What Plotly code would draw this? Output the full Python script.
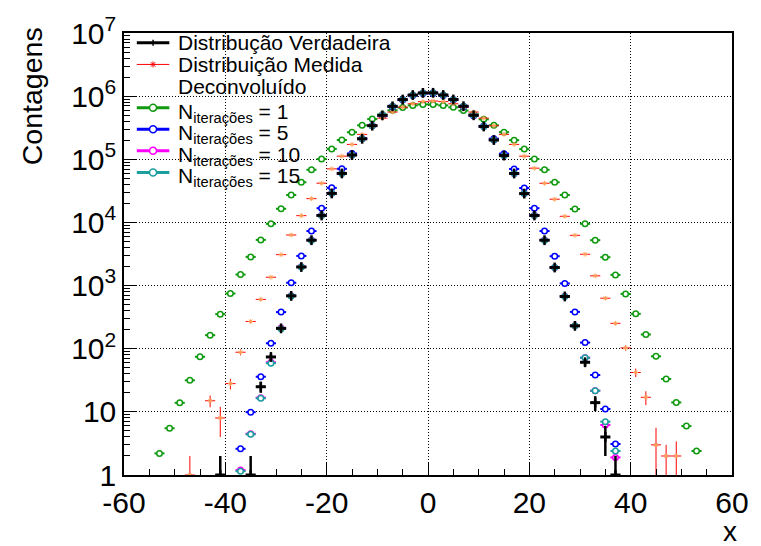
import numpy as np
import plotly.graph_objects as go

# Bin centres: 60 bins of width 2 covering [-60, 60]
bin_centers = list(range(-59, 60, 2))
half_width = 1.0

# Counts per bin (None = empty bin)
verdadeira = [None] * 9 + [1, None, None, 1,
    25, 74, 210, 687, 1968, 5230, 12900, 28800, 59700, 116700, 211000, 341000,
    497000, 690000, 883000, 1041000, 1126000,
    1129000, 1043000, 885000, 692000, 498000, 331000, 202000, 114500, 59600,
    28600, 12900, 5230, 1935, 672, 230, 61, 14, 4, 1] + [None] * 11

medida = [None] * 6 + [1, None,
    15, 8, 28, 88, 270, 604, 1356, 3090, 6320, 12800, 23800, 41800, 70500,
    112000, 172000, 248000, 340000, 448000, 560000, 668000, 757000, 818000,
    838000, 818000, 757000, 668000, 560000, 448000, 340000, 248000, 172000,
    112000, 72300, 41700, 23300, 12500, 6250, 3130, 1426, 631, 252, 103, 42,
    17, 3, 2, 2] + [None] * 5

err_medida = [None] * 6 + [1.0, None,
    3.2, 4.0, 5.3, 9.4, 16, 25, 37, 56, 80, 113, 154, 204, 266,
    335, 415, 498, 583, 669, 748, 817, 870, 904,
    915, 904, 870, 817, 748, 669, 583, 498, 415,
    335, 269, 204, 153, 112, 79, 56, 38, 25, 16, 10, 6.4,
    4.2, 2.6, 1.0, 1.4] + [None] * 5

iter_1 = [None] * 3 + [
    2.2, 5.5, 13.9, 31.6, 74.5, 164, 353, 748, 1494, 2847, 5290, 9510, 16450,
    27170, 43250, 68200, 101000, 146000, 202000, 268000, 345000, 433000,
    512000, 597000, 658000, 714000, 740000,
    740000, 714000, 665000, 590000, 515000, 430000, 346000, 269000, 201000,
    145000, 101000, 68200, 43250, 27170, 16300, 9510, 5230, 2813, 1477, 738,
    357, 168, 75.7, 33.2, 14.1, 5.95, 2.4] + [None] * 3

iter_5 = [None] * 11 + [
    2.6, 9.9, 36, 122, 380, 1109, 2950, 7300, 16800, 35300, 70600, 123600,
    214000, 340000, 490000, 676000, 866000, 1020000, 1104000,
    1106000, 1021000, 867000, 677000, 491000, 338000, 212000, 122800, 70200,
    35100, 16800, 7300, 2917, 1081, 383, 125, 38.3, 11.1, 3.1] + [None] * 11

iter_10 = [None] * 11 + [
    1.2, 4.5, 16.8, 61, 212, 690, 1985, 5250, 12950, 28900, 59900, 117000,
    211500, 341500, 497500, 690500, 883500, 1041500, 1126000,
    1128000, 1042500, 884500, 691500, 497500, 331500, 202500, 114800, 59800,
    28700, 12950, 5250, 1925, 675, 232, 72, 21.6, 6.2, 1.9] + [None] * 11

iter_15 = [None] * 11 + [
    1.15, 4.4, 16.4, 59, 208, 686, 1975, 5240, 12920, 28850, 59800, 116900,
    211200, 341200, 497200, 690200, 883200, 1041200, 1126500,
    1128500, 1042800, 884800, 691800, 497800, 331200, 202200, 114600, 59700,
    28650, 12920, 5240, 1930, 673, 231, 72, 21.6, 7.0, 2.4] + [None] * 11

x_ticks = [-60, -40, -20, 0, 20, 40, 60]
x_ticktext = ["-60", "-40", "-20", "0", "20", "40", "60"]
y_ticks = [1, 10, 1e2, 1e3, 1e4, 1e5, 1e6, 1e7]
y_ticktext = ["1", "10", "10<sup>2</sup>", "10<sup>3</sup>", "10<sup>4</sup>",
              "10<sup>5</sup>", "10<sup>6</sup>", "10<sup>7</sup>"]

legend_labels = ["Distribução Verdadeira", "Distribuição Medida", "Deconvoluído",
                 "N<sub>iterações</sub> = 1", "N<sub>iterações</sub> = 5",
                 "N<sub>iterações</sub> = 10", "N<sub>iterações</sub> = 15"]

FONT = "Liberation Sans, Arial, Helvetica, sans-serif"
C_TRUE = "#000000"
C_MEAS = "#ff0000"
C_IT1 = "#109a10"
C_IT5 = "#0000ff"
C_IT10 = "#ff00ff"
C_IT15 = "#1a9e9e"

W, H = 761, 546
ML, MR, MT, MB = 124, 20, 25, 71
PW, PH = W - ML - MR, H - MT - MB


def px_x(px):
    return (px - ML) / PW


def px_y(py):
    return (H - MB - py) / PH


def points(values, errors=None):
    xs, ys, up, dn = [], [], [], []
    for i, v in enumerate(values):
        if v is None:
            continue
        xs.append(bin_centers[i])
        ys.append(v)
        if errors is not None:
            e = errors[i]
            up.append(e)
            dn.append(min(e, v - 0.3))
    return xs, ys, up, dn


fig = go.Figure()

# unfolded distributions: open circles with bin-width bars
for vals, col in [(iter_1, C_IT1), (iter_5, C_IT5), (iter_10, C_IT10), (iter_15, C_IT15)]:
    xs, ys, _, _ = points(vals)
    fig.add_trace(go.Scatter(
        x=xs, y=ys, mode="markers", showlegend=False,
        marker=dict(symbol="circle", size=5.5, color="white",
                    line=dict(color=col, width=1.5)),
        error_x=dict(type="constant", value=half_width, width=0,
                     thickness=2, color=col)))

# measured distribution
xs, ys, up, dn = points(medida, err_medida)
fig.add_trace(go.Scatter(
    x=xs, y=ys, mode="markers", showlegend=False,
    marker=dict(symbol="asterisk-open", size=4, line=dict(color=C_MEAS, width=1)),
    error_x=dict(type="constant", value=half_width, width=0, thickness=1, color=C_MEAS),
    error_y=dict(type="data", symmetric=False, array=up, arrayminus=dn,
                 width=0, thickness=1, color=C_MEAS)))

# true distribution with Poisson errors
err_true = [None if v is None else float(np.sqrt(v)) for v in verdadeira]
xs, ys, up, dn = points(verdadeira, err_true)
fig.add_trace(go.Scatter(
    x=xs, y=ys, mode="markers", showlegend=False,
    marker=dict(symbol="line-ns", size=7, line=dict(color=C_TRUE, width=2.5)),
    error_x=dict(type="constant", value=half_width, width=0, thickness=3, color=C_TRUE),
    error_y=dict(type="data", symmetric=False, array=up, arrayminus=dn,
                 width=0, thickness=2.5, color=C_TRUE)))

# ---- legend box drawn with shapes and annotations ----
row_y = [35, 57, 79, 101, 123, 145, 167]
line_x0, line_x1, text_x = 137, 170, 177
sample_style = [
    (C_TRUE, 3, "plus"), (C_MEAS, 1, "star"), (None, 0, None),
    (C_IT1, 3, "circle"), (C_IT5, 3, "circle"), (C_IT10, 3, "circle"), (C_IT15, 3, "circle"),
]
shapes = []
annotations = []
xc = px_x((line_x0 + line_x1) / 2)
for label, ry, (col, lw, mk) in zip(legend_labels, row_y, sample_style):
    sub = "<sub>" in label
    annotations.append(dict(
        text=label, xref="paper", yref="paper", x=px_x(text_x), y=px_y(ry),
        xanchor="left", yanchor="middle", showarrow=False,
        yshift=-5 if sub else 0,
        font=dict(size=21, family=FONT, color="black")))
    if col is None:
        continue
    yc = px_y(ry)
    shapes.append(dict(type="line", xref="paper", yref="paper",
                       x0=px_x(line_x0), x1=px_x(line_x1), y0=yc, y1=yc,
                       line=dict(color=col, width=lw), layer="above"))
    if mk == "circle":
        shapes.append(dict(type="circle", xref="paper", yref="paper",
                           xsizemode="pixel", ysizemode="pixel",
                           xanchor=xc, yanchor=yc, x0=-3.5, x1=3.5, y0=-3.5, y1=3.5,
                           fillcolor="white", line=dict(color=col, width=1.5),
                           layer="above"))
    elif mk == "plus":
        shapes.append(dict(type="line", xref="paper", yref="paper",
                           xsizemode="pixel", ysizemode="pixel",
                           xanchor=xc, yanchor=yc, x0=0, x1=0, y0=-3, y1=3,
                           line=dict(color=col, width=1.5), layer="above"))
    elif mk == "star":
        for dx, dy in [(0, 3), (3, 0), (2.2, 2.2), (2.2, -2.2)]:
            shapes.append(dict(type="line", xref="paper", yref="paper",
                               xsizemode="pixel", ysizemode="pixel",
                               xanchor=xc, yanchor=yc, x0=-dx, x1=dx, y0=-dy, y1=dy,
                               line=dict(color=col, width=1), layer="above"))

annotations += [
    dict(text="Contagens", xref="paper", yref="paper", x=px_x(31), y=px_y(89),
         textangle=-90, showarrow=False, font=dict(size=28.5, family=FONT),
         xanchor="center", yanchor="middle"),
    dict(text="x", xref="paper", yref="paper", x=px_x(739), y=px_y(533),
         showarrow=False, font=dict(size=28, family=FONT),
         xanchor="center", yanchor="middle"),
]

minor_y = [k * 10 ** d for d in range(7) for k in range(2, 10)]
GRID_DASH = "1px,2px"

fig.update_layout(
    width=W, height=H,
    margin=dict(l=ML, r=MR, t=MT, b=MB),
    paper_bgcolor="white", plot_bgcolor="white",
    font=dict(family=FONT, color="black"),
    showlegend=False,
    shapes=shapes,
    annotations=annotations,
    xaxis=dict(range=[-60, 60], tickvals=x_ticks, ticktext=x_ticktext,
               ticks="inside", ticklen=12, tickwidth=1, tickcolor="black",
               showline=True, linecolor="black", linewidth=1.5, mirror=True,
               showgrid=True, gridcolor="black", griddash=GRID_DASH, gridwidth=1,
               zeroline=False, tickfont=dict(size=30, family=FONT),
               minor=dict(dtick=5, tick0=0, ticks="inside", ticklen=6,
                          tickcolor="black", showgrid=False)),
    yaxis=dict(type="log", range=[0, 7], tickvals=y_ticks, ticktext=y_ticktext,
               ticks="inside", ticklen=12, tickwidth=1, tickcolor="black",
               showline=True, linecolor="black", linewidth=1.5, mirror=True,
               showgrid=True, gridcolor="black", griddash=GRID_DASH, gridwidth=1,
               zeroline=False, tickfont=dict(size=30, family=FONT),
               minor=dict(tickvals=minor_y, ticks="inside", ticklen=6,
                          tickcolor="black", showgrid=False)),
)

fig.write_html("out.html")
